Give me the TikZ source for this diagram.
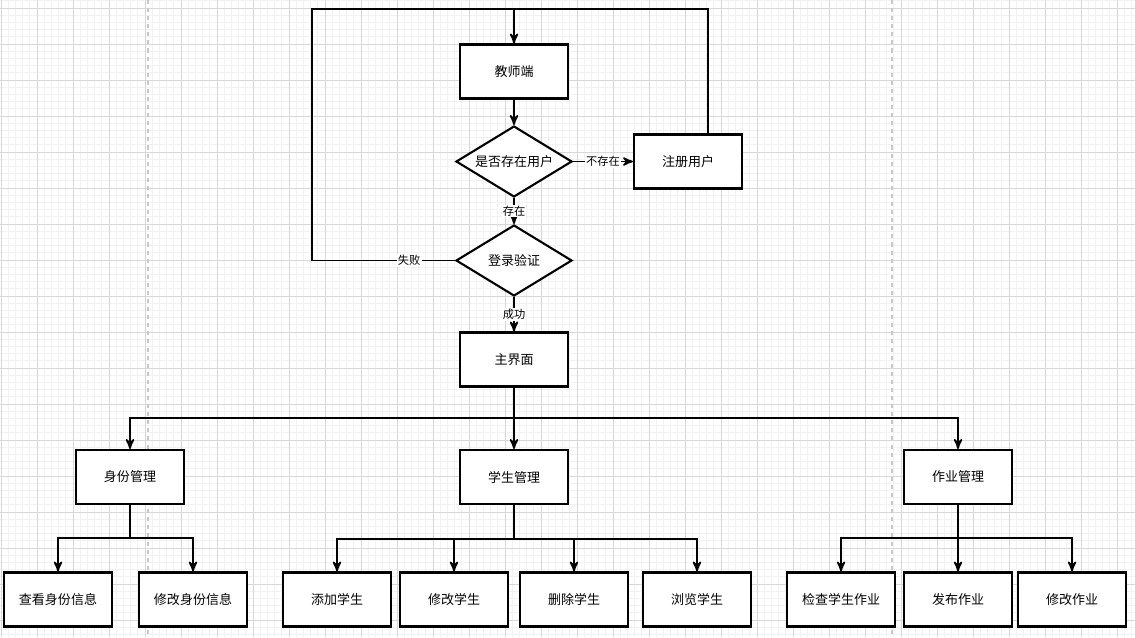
\documentclass[tikz,border=0pt]{standalone}
\usepackage{fontspec}
\setmainfont{Noto Sans CJK SC}
\usepackage{tikz}
\usetikzlibrary{arrows,shapes.geometric}
\definecolor{grid_minor}{RGB}{242,242,242}
\definecolor{grid_major}{RGB}{216,216,216}
\definecolor{page_break}{RGB}{200,200,200}

\begin{document}
\begin{tikzpicture}[->,>=stealth',x=0.02cm,y=-0.02cm,line width=1pt]
    \tikzstyle{box}=[draw=black, rectangle, line width=1.2pt, minimum width=2.16cm, minimum height=1.08cm, fill=white, text=black, inner sep=0pt, font=\fontsize{7.4}{9}\selectfont]
    \tikzstyle{dec}=[style=box, diamond, aspect=1.63, minimum width=2.32cm, minimum height=1.42cm]
    \tikzstyle{lbl}=[fill=white, inner sep=0.6pt, text=black, font=\fontsize{6.4}{8}\selectfont]

    \useasboundingbox (0,0) rectangle (1135,637);
    \fill[white] (0,0) rectangle (1135,637);
    % grid
    \foreach \i in {0,...,157} \draw[-,grid_minor,line width=0.5pt] (1+7.2*\i,0) -- (1+7.2*\i,637);
    \foreach \j in {-1,...,87} \draw[-,grid_minor,line width=0.5pt] (0,8+7.2*\j) -- (1135,8+7.2*\j);
    \foreach \i in {0,...,31} \draw[-,grid_major,line width=0.5pt] (1+36*\i,0) -- (1+36*\i,637);
    \foreach \j in {0,...,17} \draw[-,grid_major,line width=0.5pt] (0,8+36*\j) -- (1135,8+36*\j);
    \draw[-,page_break,line width=1.1pt,dash pattern=on 2.3pt off 2.3pt] (148,0) -- (148,637);
    \draw[-,page_break,line width=1.1pt,dash pattern=on 2.3pt off 2.3pt] (892,0) -- (892,637);

    \node[box] (teacher)  at (514,71.5)  {教师端};
    \node[dec] (exist)    at (514,161.5) {是否存在用户};
    \node[box] (register) at (688,161.5) {注册用户};
    \node[dec] (login)    at (514,260.5) {登录验证};
    \node[box] (main)     at (514,359.5) {主界面};

    \node[box] (idm) at (130,477) {身份管理};
    \node[box] (stu) at (514,477) {学生管理};
    \node[box] (hw)  at (958,477) {作业管理};

    \node[box] (idview)    at (58,599.5)   {查看身份信息};
    \node[box] (idedit)    at (193,599.5)  {修改身份信息};
    \node[box] (stuadd)    at (337,599.5)  {添加学生};
    \node[box] (stuedit)   at (454,599.5)  {修改学生};
    \node[box] (studel)    at (574,599.5)  {删除学生};
    \node[box] (stubrowse) at (697,599.5)  {浏览学生};
    \node[box] (hwcheck)   at (841,599.5)  {检查学生作业};
    \node[box] (hwpub)     at (958,599.5)  {发布作业};
    \node[box] (hwedit)    at (1072,599.5) {修改作业};

    \coordinate (top)      at (514,9);
    \coordinate (topr)     at (708,9);
    \coordinate (failc)    at (312,260.5);
    \coordinate (mainsplit) at (514,418);
    \coordinate (idsplit)  at (130,538);
    \coordinate (stusplit) at (514,539);
    \coordinate (hwsplit)  at (958,538);

    % login loop
    \draw[-] (register.north -| topr) |- (top);
    \draw[-] (login.west) -- node[lbl,pos=0.32] {失败} (failc) |- (top);
    \draw (top) -- (teacher);
    \draw (teacher) -- (exist);
    \draw (exist.east) -- node[lbl] {不存在} (register.west);
    \draw (exist) -- node[lbl] {存在} (login);
    \draw (login) -- node[lbl] {成功} (main);

    % main menu
    \draw[-] (main) -- (mainsplit);
    \draw (mainsplit) -| (idm);
    \draw (mainsplit) -- (stu);
    \draw (mainsplit) -| (hw);

    \draw[-] (idm) -- (idsplit);
    \draw (idsplit) -| (idview);
    \draw (idsplit) -| (idedit);

    \draw[-] (stu) -- (stusplit);
    \draw (stusplit) -| (stuadd);
    \draw (stusplit) -| (stuedit);
    \draw (stusplit) -| (studel);
    \draw (stusplit) -| (stubrowse);

    \draw[-] (hw) -- (hwsplit);
    \draw (hwsplit) -| (hwcheck);
    \draw (hwsplit) -- (hwpub);
    \draw (hwsplit) -| (hwedit);
\end{tikzpicture}
\end{document}
